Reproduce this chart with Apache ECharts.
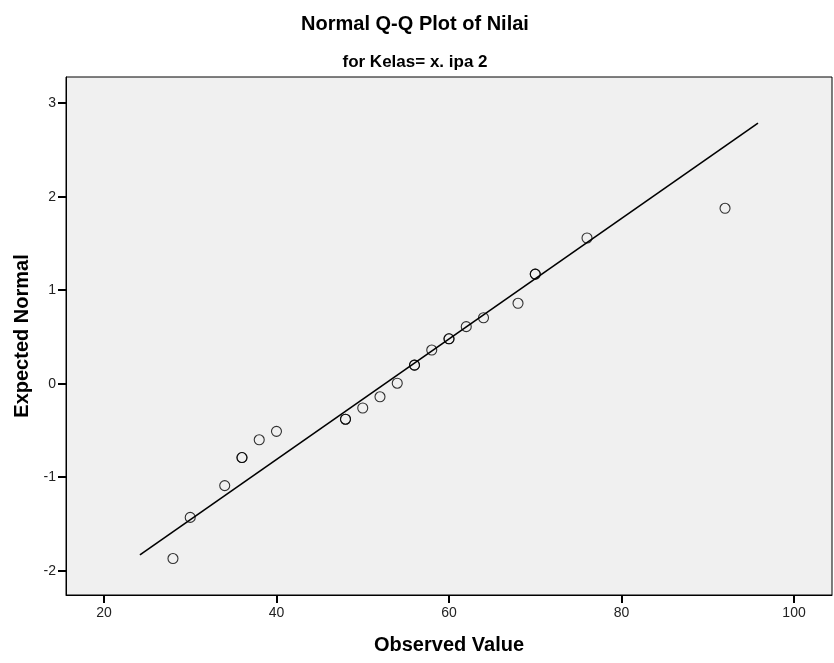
<!DOCTYPE html>
<html>
<head>
<meta charset="utf-8">
<script src="https://cdn.jsdelivr.net/npm/echarts@6/dist/echarts.min.js"></script>
<style>
html,body{margin:0;padding:0;background:#fff;}
#c{width:834px;height:663px;}
</style>
</head>
<body>
<div id="c"></div>
<script>
var observed = [28, 30, 34, 36, 36, 38, 40, 48, 48, 50, 52, 54, 56, 56, 58, 60, 60, 62, 64, 68, 70, 70, 76, 92];
var expected = [-1.87, -1.43, -1.09, -0.79, -0.79, -0.60, -0.51, -0.38, -0.38, -0.26, -0.14, 0.005, 0.198, 0.198, 0.36, 0.48, 0.48, 0.61, 0.705, 0.86, 1.172, 1.172, 1.558, 1.876];
// Reference line end points
var lineX = [24.17, 95.82];
var lineY = [-1.83, 2.786];
var xTicks = [20, 40, 60, 80, 100];
var yTicks = [-2, -1, 0, 1, 2, 3];

var pts = observed.map(function(v, i){ return [v, expected[i]]; });
var linePts = lineX.map(function(v, i){ return [v, lineY[i]]; });

var font = '"Liberation Sans", Arial, sans-serif';
var chart = echarts.init(document.getElementById('c'), null, {renderer:'canvas'});
chart.setOption({
  animation: false,
  backgroundColor: '#ffffff',
  title: [
    {text: 'Normal Q-Q Plot of Nilai', left: 415, top: 14, textAlign: 'center', padding: 0,
     textStyle: {fontFamily: font, fontSize: 20, fontWeight: 'bold', color: '#000'}},
    {text: 'for Kelas= x. ipa 2', left: 415, top: 54, textAlign: 'center', padding: 0,
     textStyle: {fontFamily: font, fontSize: 17, fontWeight: 'bold', color: '#000'}}
  ],
  grid: {left: 66, top: 77, right: 2, bottom: 68, show: true,
         backgroundColor: '#f0f0f0', borderColor: '#000', borderWidth: 1, containLabel: false},
  xAxis: {
    type: 'value', min: 15.6, max: 104.4,
    name: 'Observed Value', nameLocation: 'middle', nameGap: 40,
    nameTextStyle: {fontFamily: font, fontSize: 20, fontWeight: 'bold', color: '#000'},
    axisLine: {show: true, onZero: false, lineStyle: {color: '#000', width: 1}},
    axisTick: {show: true, length: 8, lineStyle: {color: '#000', width: 2}, customValues: xTicks},
    axisLabel: {fontFamily: font, fontSize: 14, color: '#222', margin: 11, customValues: xTicks},
    splitLine: {show: false}
  },
  yAxis: {
    type: 'value', min: -2.26, max: 3.28,
    name: 'Expected Normal', nameLocation: 'middle', nameGap: 32, nameRotate: 90,
    nameTextStyle: {fontFamily: font, fontSize: 20, fontWeight: 'bold', color: '#000'},
    axisLine: {show: true, onZero: false, lineStyle: {color: '#000', width: 1}},
    axisTick: {show: true, length: 8, lineStyle: {color: '#000', width: 2}, customValues: yTicks},
    axisLabel: {fontFamily: font, fontSize: 14, color: '#222', margin: 10, customValues: yTicks},
    splitLine: {show: false}
  },
  series: [
    {type: 'line', data: linePts, symbol: 'none', silent: true,
     lineStyle: {color: '#000', width: 1.6}, z: 2},
    {type: 'scatter', data: pts, symbol: 'circle', symbolSize: 10,
     itemStyle: {color: 'rgba(0,0,0,0)', borderColor: '#000', borderWidth: 1.1}, z: 3}
  ]
});
</script>
</body>
</html>
